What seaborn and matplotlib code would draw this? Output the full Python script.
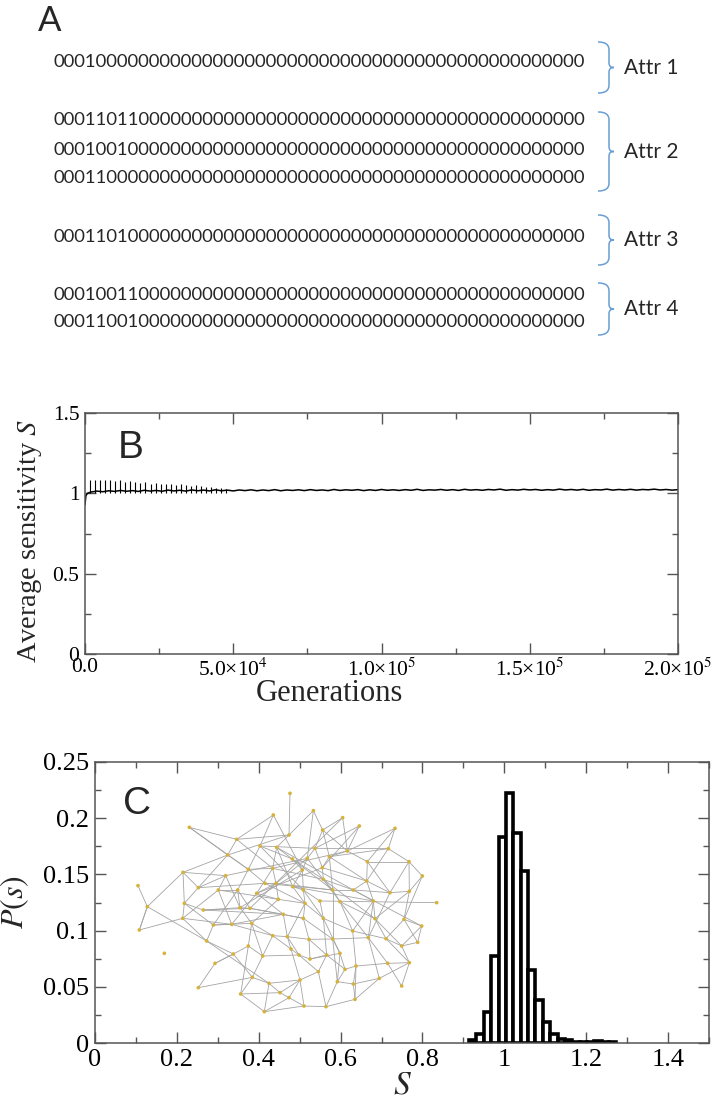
import numpy as np
import pandas as pd
import seaborn as sns
import matplotlib.pyplot as plt
from matplotlib.path import Path
from matplotlib.patches import PathPatch
from matplotlib.collections import LineCollection
from matplotlib.ticker import MultipleLocator, FixedLocator, FixedFormatter

# ---- panel A: attractor states ----
attr_rows = [
    ["0001000000" "0000000000" "0000000000" "0000000000" "0000000000"],
    ["0001101100" "0000000000" "0000000000" "0000000000" "0000000000",
     "0001001000" "0000000000" "0000000000" "0000000000" "0000000000",
     "0001100000" "0000000000" "0000000000" "0000000000" "0000000000"],
    ["0001101000" "0000000000" "0000000000" "0000000000" "0000000000"],
    ["0001001100" "0000000000" "0000000000" "0000000000" "0000000000",
     "0001100100" "0000000000" "0000000000" "0000000000" "0000000000"],
]
attr_names = ["Attr 1", "Attr 2", "Attr 3", "Attr 4"]

# ---- panel B: average sensitivity vs generations ----
gen_start = [0, 300, 800]
s_start = [0.93, 0.985, 1.0]
s_series = [
    1.008, 1.014, 1.010, 1.016, 1.012, 1.018, 1.013, 1.017, 1.012, 1.019,
    1.014, 1.018, 1.013, 1.020, 1.015, 1.019, 1.014, 1.021, 1.016, 1.020,
    1.015, 1.022, 1.016, 1.020, 1.015, 1.021, 1.017, 1.022, 1.016, 1.021,
    1.017, 1.023, 1.016, 1.021, 1.018, 1.022, 1.017, 1.023, 1.018, 1.021,
    1.017, 1.024, 1.018, 1.022, 1.019, 1.023, 1.017, 1.022, 1.018, 1.024,
    1.019, 1.022, 1.018, 1.023, 1.019, 1.025, 1.018, 1.022, 1.020, 1.024,
    1.019, 1.023, 1.018, 1.025, 1.020, 1.023, 1.019, 1.024, 1.021, 1.026,
    1.019, 1.023, 1.020, 1.025, 1.021, 1.024, 1.019, 1.023, 1.020, 1.026,
    1.021, 1.024, 1.020, 1.025, 1.019, 1.023, 1.021, 1.026, 1.020, 1.024,
    1.021, 1.025, 1.020, 1.024, 1.022, 1.026, 1.021, 1.024, 1.020, 1.023,
]
spike_gen = [1700, 3400, 5100, 6800, 8500, 10200, 11900, 13600, 15300, 17000,
             18700, 20400, 22100, 23800, 25500, 27200, 28900, 30600, 32300, 34000,
             35700, 37400, 39100, 40800, 42500, 44200, 45900, 47600]
spike_top = [1.08, 1.085, 1.08, 1.085, 1.08, 1.075, 1.08, 1.07, 1.075, 1.07,
             1.065, 1.07, 1.06, 1.065, 1.06, 1.055, 1.06, 1.05, 1.055, 1.05,
             1.045, 1.05, 1.045, 1.04, 1.04, 1.035, 1.035, 1.03]
b_xticklabels = ["0.0", "5.0×10$^{4}$", "1.0×10$^{5}$", "1.5×10$^{5}$", "2.0×10$^{5}$"]

# ---- panel C: histogram of sensitivities ----
bin_centers = [0.923, 0.941, 0.959, 0.977, 0.995, 1.013, 1.031, 1.049, 1.067, 1.085,
               1.103, 1.121, 1.139, 1.157, 1.175, 1.193, 1.211, 1.229, 1.247, 1.265]
p_s = [0.0024, 0.0078, 0.028, 0.077, 0.183, 0.222, 0.187, 0.153, 0.065, 0.038,
       0.019, 0.0078, 0.0039, 0.0024, 0.0012, 0.0008, 0.0006, 0.0015, 0.0006, 0.0012]
bin_width = 0.018

# inset network (positions in zoomed-pixel units of the inset box)
node_x = [600, 550, 670, 758, 808, 915, 298, 440, 597, 698, 510, 560, 675, 772, 895,
          413, 607, 652, 718, 832, 957, 279, 475, 548, 637, 697, 407, 997, 325, 525,
          558, 608, 700, 830, 144, 385, 443, 500, 640, 728, 790, 900, 958, 172, 283,
          340, 450, 480, 565, 645, 690, 750, 850, 1040, 278, 370, 425, 580, 640, 700,
          855, 942, 995, 148, 350, 485, 548, 592, 657, 728, 788, 835, 888, 983, 935,
          223, 430, 475, 518, 603, 627, 660, 710, 750, 375, 765, 798, 893, 958, 685,
          487, 537, 630, 742, 790, 868, 325, 452, 597, 642, 708, 795, 523, 935, 570]
node_y = [160, 225, 212, 233, 258, 265, 262, 298, 285, 270, 318, 322, 325, 333, 326,
          345, 357, 355, 350, 365, 365, 397, 388, 385, 390, 383, 407, 408, 443, 430,
          430, 440, 418, 423, 437, 450, 450, 460, 450, 450, 450, 458, 454, 500, 490,
          510, 503, 505, 478, 490, 483, 485, 483, 488, 535, 555, 553, 523, 535, 535,
          536, 538, 558, 570, 603, 550, 587, 590, 598, 597, 573, 593, 596, 607, 618,
          640, 642, 618, 648, 627, 645, 657, 645, 640, 670, 688, 678, 670, 668, 695,
          712, 730, 720, 725, 732, 715, 743, 762, 773, 798, 800, 778, 815, 738, 758]
edges = [(1, 9), (2, 8), (2, 11), (3, 10), (3, 9), (4, 10), (4, 14), (5, 14), (5, 26),
         (6, 14), (6, 20), (7, 8), (8, 9), (8, 16), (8, 24), (9, 12), (9, 16), (10, 13),
         (10, 19), (11, 13), (11, 23), (12, 17), (12, 32), (13, 15), (14, 24), (14, 20),
         (15, 21), (15, 19), (16, 22), (16, 29), (17, 33), (18, 25), (18, 27), (19, 26),
         (20, 21), (20, 34), (21, 28), (21, 42), (22, 27), (22, 44), (23, 37), (23, 30),
         (24, 31), (25, 39), (25, 47), (26, 33), (26, 38), (27, 36), (28, 43), (29, 30),
         (29, 45), (30, 40), (31, 49), (31, 40), (32, 50), (33, 41), (34, 41), (34, 53),
         (35, 44), (36, 55), (36, 57), (37, 47), (38, 49), (38, 58), (39, 51), (40, 52),
         (41, 42), (41, 63), (42, 43), (42, 72), (43, 62), (44, 64), (44, 65), (45, 46),
         (45, 55), (46, 48), (47, 48), (47, 66), (48, 59), (49, 50), (50, 60), (51, 54),
         (52, 61), (53, 61), (53, 71), (55, 57), (56, 65), (56, 57), (57, 58), (58, 59),
         (59, 70), (60, 71), (61, 75), (62, 63), (62, 73), (63, 74), (65, 77), (65, 92),
         (66, 67), (66, 78), (67, 68), (67, 79), (68, 69), (68, 80), (69, 70), (69, 83),
         (70, 72), (71, 73), (72, 88), (73, 89), (74, 75), (75, 89), (77, 78), (77, 91),
         (78, 79), (79, 81), (80, 81), (81, 82), (82, 84), (83, 86), (83, 90), (84, 94),
         (85, 77), (86, 87), (87, 88), (87, 95), (88, 104), (89, 96), (90, 93), (90, 101),
         (91, 92), (91, 98), (92, 93), (93, 99), (94, 95), (95, 102), (96, 102), (97, 91),
         (98, 105), (99, 100), (99, 105), (100, 101), (101, 102), (103, 92), (103, 99),
         (105, 93), (2, 25), (3, 18), (11, 39), (12, 41), (13, 26), (17, 40), (19, 34),
         (22, 45), (24, 33), (27, 47), (30, 50), (31, 38), (32, 53), (36, 49), (39, 60),
         (40, 70), (46, 58), (4, 48), (7, 23), (37, 56), (52, 72), (64, 44), (18, 52),
         (33, 61), (50, 68), (60, 84), (70, 94),
         (5, 13), (6, 15), (7, 16), (10, 14), (11, 17), (12, 24), (13, 18), (14, 19),
         (15, 34), (16, 23), (17, 25), (18, 31), (19, 40), (20, 42), (21, 43), (22, 29),
         (23, 24), (24, 38), (25, 32), (26, 34), (27, 29), (28, 62), (30, 31), (32, 39),
         (33, 40), (34, 42), (36, 37), (37, 48), (38, 57), (39, 50), (40, 41), (41, 53),
         (43, 61), (45, 56), (46, 47), (48, 58), (49, 66), (50, 59), (51, 60), (52, 71),
         (53, 72), (55, 65), (56, 66), (57, 67), (58, 68), (59, 69), (60, 83), (61, 73),
         (62, 74), (63, 75), (64, 55), (66, 79), (67, 80), (68, 81), (69, 82), (70, 84),
         (71, 87), (72, 96), (73, 75), (77, 85), (78, 98), (79, 91), (80, 93), (81, 90),
         (82, 83), (84, 86), (86, 94), (88, 89), (89, 104), (92, 105), (93, 100),
         (94, 101), (95, 96), (97, 85), (98, 103), (100, 103), (102, 87)]

sns.set_style("ticks")
plt.rcParams['font.family'] = ['Liberation Serif', 'DejaVu Serif']
plt.rcParams['mathtext.fontset'] = 'stix'

W, H = 719, 1105
fig = plt.figure(figsize=(W / 100, H / 100), dpi=100)
spine_col = '#555555'


def px_axes(left, top, right, bottom):
    return fig.add_axes([left / W, 1 - bottom / H, (right - left) / W, (bottom - top) / H])


def style(ax, labelsize):
    for sp in ax.spines.values():
        sp.set_color(spine_col)
        sp.set_linewidth(1.1)
    ax.tick_params(which='both', direction='in', top=True, right=True,
                   color=spine_col, labelcolor='black', labelsize=labelsize, width=1)
    ax.tick_params(which='major', length=8, pad=4)
    ax.tick_params(which='minor', length=4.5)


def brace(ax, x0, ytop, ybot, color='#6a9fd4'):
    ym = (ytop + ybot) / 2
    verts = [(x0, ytop), (x0 + 8, ytop), (x0 + 11, ytop + 3), (x0 + 11, ytop + 8),
             (x0 + 11, ym - 5),
             (x0 + 11, ym - 1), (x0 + 13, ym), (x0 + 16, ym),
             (x0 + 13, ym), (x0 + 11, ym + 1), (x0 + 11, ym + 5),
             (x0 + 11, ybot - 8),
             (x0 + 11, ybot - 3), (x0 + 8, ybot), (x0, ybot)]
    codes = [Path.MOVETO] + [Path.CURVE4] * 3 + [Path.LINETO] + [Path.CURVE4] * 6 + \
            [Path.LINETO] + [Path.CURVE4] * 3
    ax.add_patch(PathPatch(Path(verts, codes), facecolor='none', edgecolor=color, lw=1.1))


# ---------------- panel A ----------------
ax_a = px_axes(0, 0, W, 340)
ax_a.set_xlim(0, W)
ax_a.set_ylim(340, 0)
ax_a.axis('off')
ax_a.text(38, 21, "A", fontsize=25, family='Lato', va='center', ha='left')
row_y = [[62], [120, 150, 178], [237], [295, 322]]
brace_span = [(42, 93), (112, 191), (215, 265), (283, 335)]
for rows, ys, (yt, yb), name in zip(attr_rows, row_y, brace_span, attr_names):
    for r, y in zip(rows, ys):
        ax_a.text(53, y, r, fontsize=13.3, family='Lato', va='center', ha='left')
    brace(ax_a, 598, yt, yb)
    ax_a.text(624, (yt + yb) / 2, name, fontsize=15, family='Lato', va='center', ha='left')

# ---------------- panel B ----------------
ax_b = px_axes(85, 413, 678, 654)
gens = gen_start + [2000 * (i + 1) for i in range(len(s_series))]
df_b = pd.DataFrame({"gen": gens, "S": s_start + s_series})
sns.lineplot(data=df_b, x="gen", y="S", color='black', lw=1.1, estimator=None, ax=ax_b)
ax_b.vlines(spike_gen, 1.005, spike_top, color='black', lw=0.8)
ax_b.set_xlim(0, 2e5)
ax_b.set_ylim(0, 1.5)
style(ax_b, 15.5)
ax_b.xaxis.set_major_locator(FixedLocator([0, 5e4, 1e5, 1.5e5, 2e5]))
ax_b.xaxis.set_major_formatter(FixedFormatter(b_xticklabels))
ax_b.xaxis.set_minor_locator(MultipleLocator(2.5e4))
ax_b.yaxis.set_major_locator(FixedLocator([0, 0.5, 1, 1.5]))
ax_b.yaxis.set_major_formatter(FixedFormatter(["0", "0.5", "1", "1.5"]))
ax_b.yaxis.set_minor_locator(MultipleLocator(0.25))
ax_b.tick_params(axis='x', which='major', pad=3)
ax_b.set_xlabel("Generations", fontsize=22)
ax_b.set_ylabel("Average sensitivity $S$", fontsize=20.5)
ax_b.xaxis.label.set_va('center')
ax_b.yaxis.label.set_va('center')
ax_b.xaxis.set_label_coords(0.413, -0.165)
ax_b.yaxis.set_label_coords(-0.093, 0.47)
ax_b.text(0.055, 0.855, "B", transform=ax_b.transAxes, fontsize=28,
          family='Liberation Sans', va='center', ha='left')

# ---------------- panel C ----------------
ax_c = px_axes(95, 762, 709, 1043)
bin_edges = [c - bin_width / 2 for c in bin_centers] + [bin_centers[-1] + bin_width / 2]
df_c = pd.DataFrame({"S": bin_centers, "P": p_s})
sns.histplot(data=df_c, x="S", weights="P", bins=bin_edges, stat='count',
             color='white', edgecolor='black', linewidth=2.6, alpha=1, ax=ax_c)
ax_c.set_xlim(0, 1.5)
ax_c.set_ylim(0, 0.25)
style(ax_c, 19)
ax_c.xaxis.set_major_locator(FixedLocator([0, 0.2, 0.4, 0.6, 0.8, 1.0, 1.2, 1.4]))
ax_c.xaxis.set_major_formatter(FixedFormatter(["0", "0.2", "0.4", "0.6", "0.8", "1", "1.2", "1.4"]))
ax_c.xaxis.set_minor_locator(MultipleLocator(0.1))
ax_c.yaxis.set_major_locator(FixedLocator([0, 0.05, 0.1, 0.15, 0.2, 0.25]))
ax_c.yaxis.set_major_formatter(FixedFormatter(["0", "0.05", "0.1", "0.15", "0.2", "0.25"]))
ax_c.yaxis.set_minor_locator(MultipleLocator(0.025))
ax_c.set_xlabel("$S$", fontsize=24)
ax_c.set_ylabel("$P(s)$", fontsize=23)
ax_c.xaxis.label.set_va('center')
ax_c.yaxis.label.set_va('center')
ax_c.xaxis.set_label_coords(0.5, -0.15)
ax_c.yaxis.set_label_coords(-0.13, 0.5)
ax_c.text(0.045, 0.85, "C", transform=ax_c.transAxes, fontsize=28,
          family='Liberation Sans', va='center', ha='left')

# inset network
ax_n = px_axes(90, 740, 470, 1040)
ax_n.set_xlim(0, 1140)
ax_n.set_ylim(900, 0)
ax_n.axis('off')
ax_n.patch.set_alpha(0)
segs = [[(node_x[a - 1], node_y[a - 1]), (node_x[b - 1], node_y[b - 1])] for a, b in edges]
ax_n.add_collection(LineCollection(segs, colors='#a4a4a4', linewidths=0.6))
sns.scatterplot(x=node_x, y=node_y, color='#d6b23a', s=7, edgecolor='none', ax=ax_n, zorder=3)

fig.savefig("out.png", dpi=100)
